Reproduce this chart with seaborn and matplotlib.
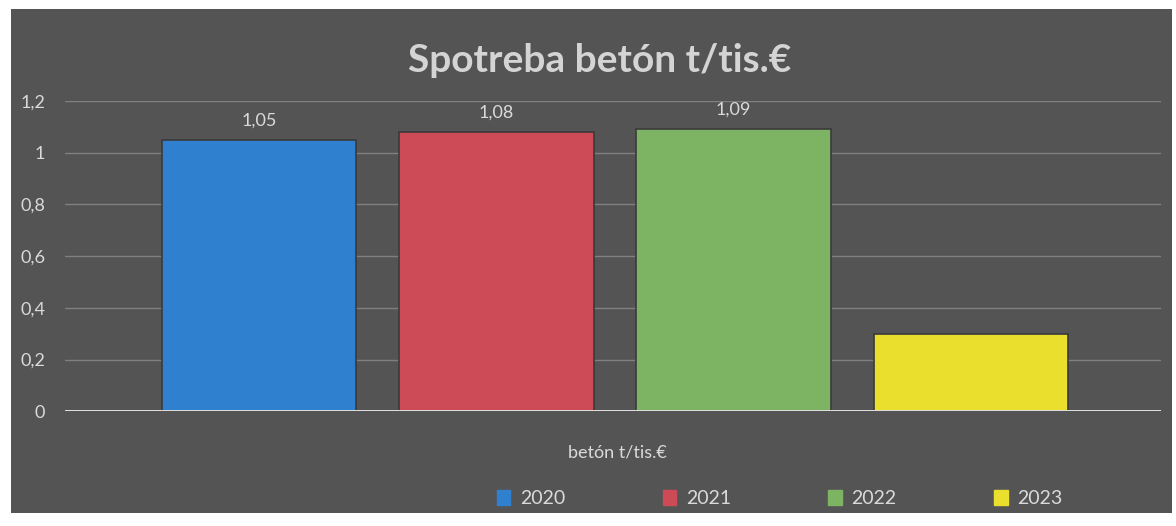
import matplotlib
matplotlib.use("Agg")
import matplotlib.pyplot as plt
import matplotlib.patches as mpatches
import pandas as pd
import seaborn as sns

# data
years = ["2020", "2021", "2022", "2023"]
values = [1.05, 1.08, 1.09, 0.30]
labels = ["1,05", "1,08", "1,09", ""]
colors = ["#2F80CF", "#CC4B57", "#7DB463", "#EBDF2E"]
yticks = [0, 0.2, 0.4, 0.6, 0.8, 1.0, 1.2]
ytick_labels = ["0", "0,2", "0,4", "0,6", "0,8", "1", "1,2"]

bg = "#545454"
txt = "#DADADA"

sns.set_style("dark")
plt.rcParams["font.family"] = ["Lato", "DejaVu Sans"]

fig = plt.figure(figsize=(11.76, 5.26), dpi=100, facecolor="white")
fig.patches.append(mpatches.Rectangle((0.009, 0.025), 0.988, 0.957, transform=fig.transFigure,
                                      facecolor=bg, edgecolor="none", zorder=-10))

ax = fig.add_axes([0.055, 0.218, 0.932, 0.59])
ax.set_facecolor(bg)

df = pd.DataFrame({"year": years, "value": values})
sns.barplot(data=df, x="year", y="value", hue="year", palette=colors, width=0.82,
            dodge=False, legend=False, ax=ax, saturation=1, zorder=3,
            edgecolor="#3A3A3A", linewidth=1.2)

for x, (v, lab) in enumerate(zip(values, labels)):
    if lab:
        ax.text(x, v + 0.045, lab, ha="center", va="bottom", color=txt, fontsize=13)

ax.set_ylim(0, 1.2)
ax.set_xlim(-0.82, 3.8)
ax.set_yticks(yticks)
ax.set_yticklabels(ytick_labels, color=txt, fontsize=13)
ax.set_xticks([])
ax.tick_params(axis="y", length=0, pad=14)
ax.grid(axis="y", color="#808080", linewidth=1, zorder=0)
ax.axhline(0, color="#EEEEEE", linewidth=2, zorder=4)
for s in ax.spines.values():
    s.set_visible(False)
ax.set_xlabel("")
ax.set_ylabel("")

fig.text(0.51, 0.885, "Spotreba betón t/tis.€", ha="center", va="center",
         color="#D4D4D4", fontsize=28, fontweight="bold")
fig.text(0.525, 0.139, "betón t/tis.€", ha="center", va="center", color=txt, fontsize=13)

handles = [mpatches.Patch(color=c, label=y) for c, y in zip(colors, years)]
leg = fig.legend(handles=handles, loc="center", bbox_to_anchor=(0.663, 0.052), ncol=4,
                 frameon=False, fontsize=14, handlelength=0.7, handleheight=0.8,
                 handletextpad=0.5, columnspacing=5.0)
for t in leg.get_texts():
    t.set_color(txt)

fig.savefig("out.png", dpi=100, facecolor="white")
